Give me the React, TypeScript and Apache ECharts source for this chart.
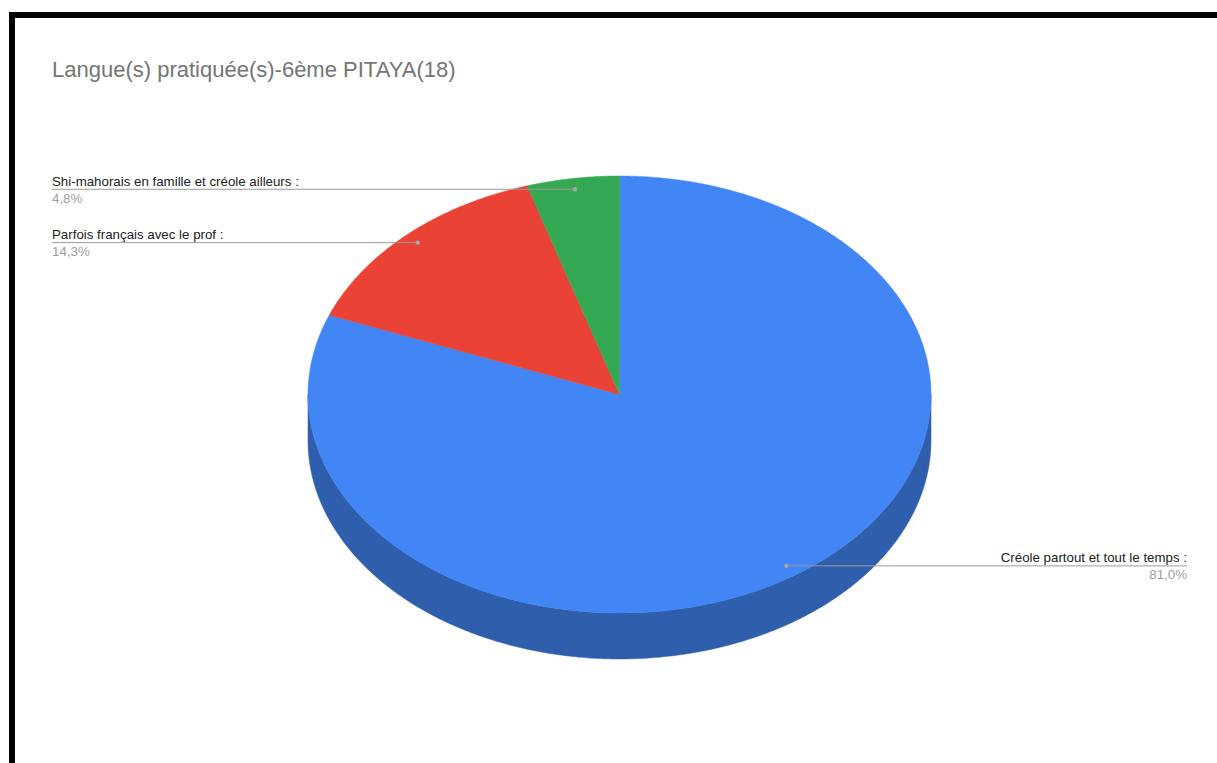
import React, { useEffect, useRef } from "react";
import * as echarts from "echarts";

const TITLE = "Langue(s) pratiquée(s)-6ème PITAYA(18)";
const categories = [
  "Créole partout et tout le temps :",
  "Parfois français avec le prof :",
  "Shi-mahorais en famille et créole ailleurs :",
];
const values = [81.0, 14.3, 4.8];
const valueLabels = ["81,0%", "14,3%", "4,8%"];
const topColors = ["#4285f4", "#ea4335", "#34a853"];
const sideColors = ["#2f5eac", "#a8302a", "#24773b"];

const FONT = '"Liberation Sans", Arial, Helvetica, sans-serif';

export default function App() {
  const ref = useRef<HTMLDivElement>(null);

  useEffect(() => {
    if (!ref.current) return;
    const chart = echarts.init(ref.current, undefined, { renderer: "svg" });

    const total = values.reduce((a, b) => a + b, 0);
    const cum: number[] = [];
    let acc = 0;
    values.forEach((v) => {
      cum.push(acc);
      acc += v;
    });

    const CX = 619.5;
    const CY = 394.5;
    const RX = 311.5;
    const RY = 218.5;
    const DEPTH = 46;
    const LEFT_X = 52;
    const RIGHT_X = 1187;

    const pt = (deg: number, f = 1, dy = 0) => {
      const r = (deg * Math.PI) / 180;
      return [CX + RX * f * Math.sin(r), CY - RY * f * Math.cos(r) + dy];
    };

    const renderItem = (params: any, api: any) => {
      const i = params.dataIndex;
      const v = api.value(0);
      const a0 = (cum[i] / total) * 360;
      const a1 = a0 + (v / total) * 360;
      const children: any[] = [];

      // side (front half only: 90..270 deg)
      const s0 = Math.max(a0, 90);
      const s1 = Math.min(a1, 270);
      if (s1 > s0) {
        const top: number[][] = [];
        const bot: number[][] = [];
        for (let d = s0; d <= s1 + 1e-6; d += 0.5) {
          top.push(pt(Math.min(d, s1)));
          bot.push(pt(Math.min(d, s1), 1, DEPTH));
        }
        top.push(pt(s1));
        bot.push(pt(s1, 1, DEPTH));
        children.push({
          type: "polygon",
          z2: 1,
          shape: { points: top.concat(bot.reverse()) },
          style: { fill: sideColors[i], stroke: sideColors[i], lineWidth: 0.5 },
        });
      }

      // top face
      const pts: number[][] = [[CX, CY]];
      for (let d = a0; d <= a1 + 1e-6; d += 0.5) pts.push(pt(Math.min(d, a1)));
      pts.push(pt(a1));
      children.push({
        type: "polygon",
        z2: 5,
        shape: { points: pts },
        style: { fill: topColors[i], stroke: topColors[i], lineWidth: 0.5 },
      });

      // label
      const mid = (a0 + a1) / 2;
      const [ax, ay] = pt(mid, 0.95);
      const isLeft = Math.sin((mid * Math.PI) / 180) < 0;
      const lx = isLeft ? LEFT_X : RIGHT_X;
      children.push({
        type: "line",
        z2: 10,
        shape: { x1: lx, y1: ay, x2: ax, y2: ay },
        style: { stroke: "#9a9a9a", lineWidth: 1 },
      });
      children.push({
        type: "circle",
        z2: 11,
        shape: { cx: ax, cy: ay, r: 2.2 },
        style: { fill: "#a9a9a9" },
      });
      children.push({
        type: "text",
        z2: 12,
        style: {
          text: categories[i],
          x: lx,
          y: ay - 1.5,
          align: isLeft ? "left" : "right",
          verticalAlign: "bottom",
          fill: "#222222",
          font: `13.3px ${FONT}`,
        },
      });
      children.push({
        type: "text",
        z2: 12,
        style: {
          text: valueLabels[i],
          x: lx,
          y: ay + 2.5,
          align: isLeft ? "left" : "right",
          verticalAlign: "top",
          fill: "#9e9e9e",
          font: `13.3px ${FONT}`,
        },
      });

      return { type: "group", children };
    };

    chart.setOption({
      animation: false,
      backgroundColor: "#ffffff",
      title: {
        text: TITLE,
        left: 52,
        top: 58,
        padding: 0,
        textStyle: {
          color: "#757575",
          fontSize: 22,
          fontWeight: "normal",
          fontFamily: FONT,
        },
      },
      graphic: [
        {
          type: "polyline",
          shape: {
            points: [
              [12, 800],
              [12, 15],
              [1260, 15],
            ],
          },
          style: { stroke: "#000000", lineWidth: 6, fill: "none" },
        },
      ],
      series: [
        {
          type: "custom",
          coordinateSystem: "none",
          renderItem,
          data: values.map((v, i) => ({ name: categories[i], value: [v] })),
        },
      ],
    });

    return () => chart.dispose();
  }, []);

  return (
    <div style={{ position: "fixed", left: 0, top: 0, width: 1217, height: 763, background: "#fff" }}>
      <div ref={ref} style={{ width: 1217, height: 763 }} />
    </div>
  );
}
